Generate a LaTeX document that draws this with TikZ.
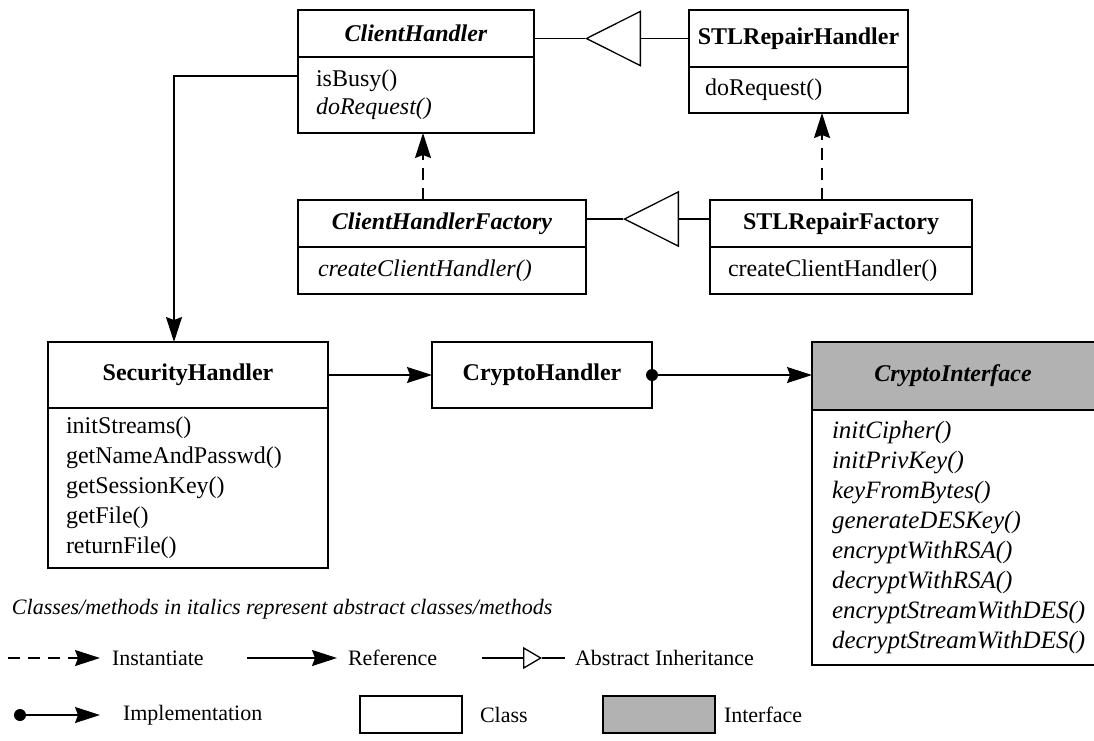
\documentclass[tikz,border=0pt]{standalone}
\usepackage{fontspec}
\setmainfont{Liberation Serif}
\usetikzlibrary{arrows.meta,calc}
\definecolor{ifacegray}{RGB}{178,178,178}
\begin{document}
\begin{tikzpicture}[x=1pt,y=-1pt,
  line width=1.3pt,
  every node/.style={inner sep=0pt, outer sep=0pt},
  box/.style={draw, line width=1.3pt, rectangle, anchor=north west,
              font=\fontsize{24}{28}\selectfont\bfseries},
  meth/.style={font=\fontsize{24}{30}\selectfont, align=left, anchor=west},
  ref/.style={-{Stealth[length=25pt,width=16pt,inset=3pt]}},
  inst/.style={ref, dash pattern=on 12pt off 8pt},
  inh/.style={-{Triangle[open,length=56pt,width=56pt]}},
  smallinh/.style={-{Triangle[open,length=19pt,width=22pt]}},
  legend/.style={font=\fontsize{22}{26}\selectfont, anchor=west},
]
\useasboundingbox (0,0) rectangle (1094,740);

% ClientHandler
\node[box, minimum width=236pt, minimum height=47pt] (ch) at (298,10) {\textit{ClientHandler}};
\node[box, minimum width=236pt, minimum height=76pt] (chm) at (298,57) {};
\node[meth, font=\fontsize{24}{28}\selectfont] (chml) at ($(chm.west)+(18,0)$) {isBusy()\\\textit{doRequest()}};

% STLRepairHandler
\node[box, minimum width=219pt, minimum height=57pt] (stl) at (689,10) {STLRepairHandler};
\node[box, minimum width=219pt, minimum height=46pt] (stlm) at (689,67) {};
\node[meth] (stlml) at ($(stlm.west)+(16,0)$) {doRequest()};

% ClientHandlerFactory
\node[box, minimum width=288pt, minimum height=47pt] (chf) at (298,200) {\textit{ClientHandlerFactory}};
\node[box, minimum width=288pt, minimum height=47pt] (chfm) at (298,247) {};
\node[meth] (chfml) at ($(chfm.west)+(20,0)$) {\textit{createClientHandler()}};

% STLRepairFactory
\node[box, minimum width=262pt, minimum height=47pt] (stf) at (710,200) {STLRepairFactory};
\node[box, minimum width=262pt, minimum height=47pt] (stfm) at (710,247) {};
\node[meth] (stfml) at ($(stfm.west)+(18,0)$) {createClientHandler()};

% SecurityHandler
\node[box, minimum width=280pt, minimum height=66pt] (sh) at (48,342) {SecurityHandler};
\node[box, minimum width=280pt, minimum height=160pt] (shm) at (48,408) {};
\node[meth] (shml) at ($(shm.west)+(18,0)$) {initStreams()\\getNameAndPasswd()\\getSessionKey()\\getFile()\\returnFile()};

% CryptoHandler
\node[box, minimum width=220pt, minimum height=66pt] (chd) at (432,342) {CryptoHandler};

% CryptoInterface
\node[box, fill=ifacegray, minimum width=290pt, minimum height=68pt] (ci) at (812,342) {\hspace*{-8pt}\textit{CryptoInterface}};
\node[box, minimum width=290pt, minimum height=255pt] (cim) at (812,410) {};
\node[meth, font=\fontsize{25}{30}\selectfont\itshape] (ciml) at ($(cim.west)+(20,0)$)
  {initCipher()\\initPrivKey()\\keyFromBytes()\\generateDESKey()\\encryptWithRSA()\\decryptWithRSA()\\encryptStreamWithDES()\\decryptStreamWithDES()};

% inheritance
\coordinate (t1) at (585,38.5);
\draw[inh] (stl.west) -- (t1);
\draw (t1) -- (t1 -| ch.east);
\coordinate (t2) at (623,219);
\draw[inh] (t2 -| stf.west) -- (t2);
\draw (t2) -- (t2 -| chf.east);

% instantiation
\draw[inst] ($(chf.north west)+(125,0)$) -- ($(chm.south west)+(125,0)$);
\draw[inst] ($(stf.north west)+(112,0)$) -- ($(stlm.south west)+(133,0)$);

% references
\draw[ref] ($(chm.north west)+(0,19)$) -| ($(sh.north west)+(126,0)$);
\draw[ref] (sh.east) -- (chd.west);

% implementation
\fill (chd.east) circle (6);
\draw[ref] (chd.east) -- (chd.east -| ci.west);

% legend
\node[legend, font=\fontsize{22}{26}\selectfont\itshape] (note) at (12,609) {Classes/methods in italics represent abstract classes/methods};

\coordinate (la1) at (8,658); \coordinate (la2) at (100,658);
\draw[inst] (la1) -- (la2);
\node[legend] (linst) at (112,658) {Instantiate};

\coordinate (lb1) at (247,658); \coordinate (lb2) at (337,658);
\draw[ref] (lb1) -- (lb2);
\node[legend] (lref) at (348,658) {Reference};

\coordinate (lc1) at (482,658); \coordinate (lc2) at (542,658); \coordinate (lc3) at (565,658);
\draw[smallinh] (lc1) -- (lc2);
\draw (lc2) -- (lc3);
\node[legend] (linh) at (575,658) {Abstract Inheritance};

\coordinate (ld1) at (20,715); \coordinate (ld2) at (100,715);
\fill (ld1) circle (6);
\draw[ref] (ld1) -- (ld2);
\node[legend] (limpl) at (123,715) {Implementation};

\node[box, minimum width=102pt, minimum height=37pt] (lcls) at (360,696) {};
\node[legend] (lclst) at (480,715) {Class};
\node[box, fill=ifacegray, minimum width=112pt, minimum height=37pt] (lif) at (603,696) {};
\node[legend] (lift) at (724,715) {Interface};
\end{tikzpicture}
\end{document}
